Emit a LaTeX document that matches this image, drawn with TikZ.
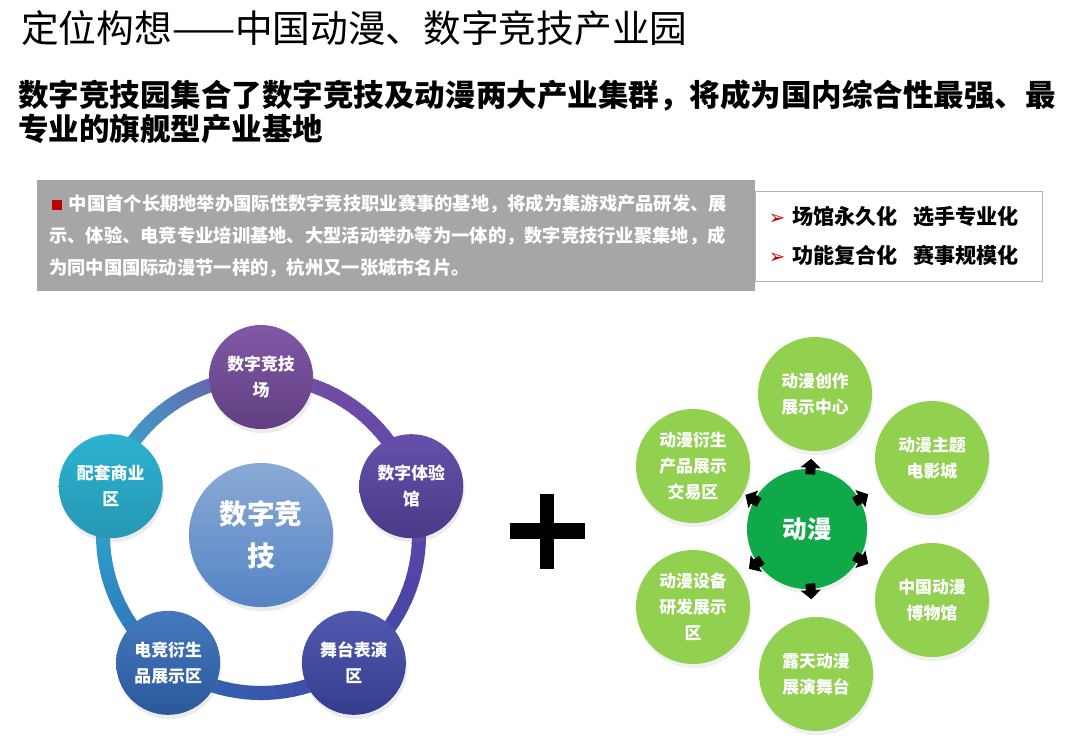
\documentclass[tikz,border=0pt]{standalone}
\usepackage{fontspec}
\setmainfont{Noto Sans CJK SC}
\newfontfamily\symf{DejaVu Sans}
\usepackage{xcolor}
\usepackage{tikz}
\usetikzlibrary{arrows.meta, positioning, calc, shadows}
\definecolor{boxgray}{HTML}{A6A6A6}
\definecolor{bred}{HTML}{C00000}
\definecolor{ltgreen}{HTML}{92D050}
\definecolor{dkgreen}{HTML}{10A94A}
\definecolor{rgA}{HTML}{2CB2D2}
\definecolor{rgB}{HTML}{7A4FA2}
\definecolor{rgC}{HTML}{5E47A8}
\definecolor{rgD}{HTML}{3E47A6}
\definecolor{rgE}{HTML}{3169B6}
\definecolor{ctA}{HTML}{8AAAD6}
\definecolor{ctB}{HTML}{4A7EC2}
\definecolor{ctC}{HTML}{5584C4}

\begin{document}
\begin{tikzpicture}[x=0.025cm,y=0.025cm]
\tikzset{
  sc/.style={circle,minimum size=2.6cm,inner sep=0pt,align=center,text=white,font=\bfseries\fontsize{12}{18.5}\selectfont,drop shadow={opacity=0.15,shadow xshift=1pt,shadow yshift=-3pt}},
  gc/.style={circle,minimum size=2.85cm,inner sep=0pt,align=center,fill=ltgreen,text=white,font=\bfseries\fontsize{12}{18.5}\selectfont,drop shadow={opacity=0.12,shadow xshift=1pt,shadow yshift=-3pt}},
  rg/.style={line width=10pt},
  ar/.style={-{Triangle[length=6.5pt,width=14pt]},line width=7pt,black},
  bl/.style={text=bred,font=\symf\fontsize{11}{11}\selectfont}
}
\useasboundingbox (0,0) rectangle (1070,-742);
\node[anchor=west,inner sep=0pt,font=\fontsize{26.8}{30}\selectfont] (ttl) at (21,-28) {定位构想——中国动漫、数字竞技产业园};
\node[anchor=north west,inner sep=0pt,align=left,font=\bfseries\fontsize{21.7}{24.2}\selectfont] (sub) at (18,-80) {数字竞技园集合了数字竞技及动漫两大产业集群，将成为国内综合性最强、最\\专业的旗舰型产业基地};
\node[anchor=north west,fill=boxgray,minimum width=17.95cm,minimum height=2.775cm,text width=17.35cm,inner xsep=0.3cm,align=left,text=white,font=\bfseries\fontsize{13}{22.8}\selectfont] (gbox) at (37,-180) {\hspace*{2pt}\textcolor{bred}{\rule{7pt}{7pt}}\hspace{5pt}中国首个长期地举办国际性数字竞技职业赛事的基地，将成为集游戏产品研发、展\\示、体验、电竞专业培训基地、大型活动举办等为一体的，数字竞技行业聚集地，成\\为同中国国际动漫节一样的，杭州又一张城市名片。};
\node[anchor=north west,draw=black!30,fill=white,minimum width=7.175cm,minimum height=2.25cm,text width=6.5cm,inner xsep=0.3cm,align=left,font=\bfseries\fontsize{15}{27.7}\selectfont] (rbox) at (755,-191) {{\color{bred}\symf\fontsize{14}{14}\selectfont ➢}\hspace{5pt}场馆永久化\hspace{11pt}选手专业化\\{\color{bred}\symf\fontsize{14}{14}\selectfont ➢}\hspace{5pt}功能复合化\hspace{11pt}赛事规模化};
\coordinate (rc) at (261,-535);
\foreach \s/\ca/\cb in {162/rgA/rgB,90/rgB/rgC,18/rgC/rgD,-54/rgD/rgE,-126/rgE/rgA}{
  \foreach \i in {0,...,23}{
    \pgfmathtruncatemacro\p{100-\i*100/24}
    \draw[rg,draw=\ca!\p!\cb] ($(rc)+(\s-\i*3:158)$) arc[start angle=\s-\i*3,delta angle=-3.4,radius=158];
  }
}
\node[circle,minimum size=3.6cm,inner sep=0pt,align=center,text=white,top color=ctA,middle color=ctB,bottom color=ctC,font=\bfseries\fontsize{19.7}{30}\selectfont,drop shadow={opacity=0.15,shadow xshift=1pt,shadow yshift=-3pt}] (ctr) at (rc) {数字竞\\技};
\node[sc,top color=rgB!95!white,bottom color=rgB!80!black] (s1) at ($(rc)+(90:158)$) {数字竞技\\场};
\node[sc,top color=rgC!95!white,bottom color=rgC!80!black] (s2) at ($(rc)+(18:158)$) {数字体验\\馆};
\node[sc,top color=rgD!90!white,bottom color=rgD!85!black] (s3) at ($(rc)+(-54:158)$) {舞台表演\\区};
\node[sc,top color=rgE!90!white,bottom color=rgE!85!black] (s4) at ($(rc)+(-126:158)$) {电竞衍生\\品展示区};
\node[sc,top color=rgA,bottom color=rgA!85!black] (s5) at ($(rc)+(162:158)$) {配套商业\\区};
\fill (510,-523) rectangle (585,-539);
\fill (540,-494) rectangle (554,-569);
\node[circle,minimum size=3.0cm,inner sep=0pt,fill=dkgreen,text=white,font=\bfseries\fontsize{17.5}{20}\selectfont,drop shadow={opacity=0.12,shadow xshift=1pt,shadow yshift=-3pt}] (dm) at (807,-529) {动漫};
\node[gc] (g1) at (815,-394) {动漫创作\\展示中心};
\node[gc] (g2) at (932,-458) {动漫主题\\电影城};
\node[gc] (g3) at (932,-600) {中国动漫\\博物馆};
\node[gc] (g4) at (816,-674) {露天动漫\\展演舞台};
\node[gc] (g5) at (693,-607) {动漫设备\\研发展示\\区};
\node[gc] (g6) at (693,-466) {动漫衍生\\产品展示\\交易区};
\foreach \g in {g1,g2,g3,g4,g5,g6}{
  \draw[ar,shorten <=-4pt] (dm) -- ($(dm.center)!1.76cm!(\g)$);
}
\end{tikzpicture}
\end{document}
